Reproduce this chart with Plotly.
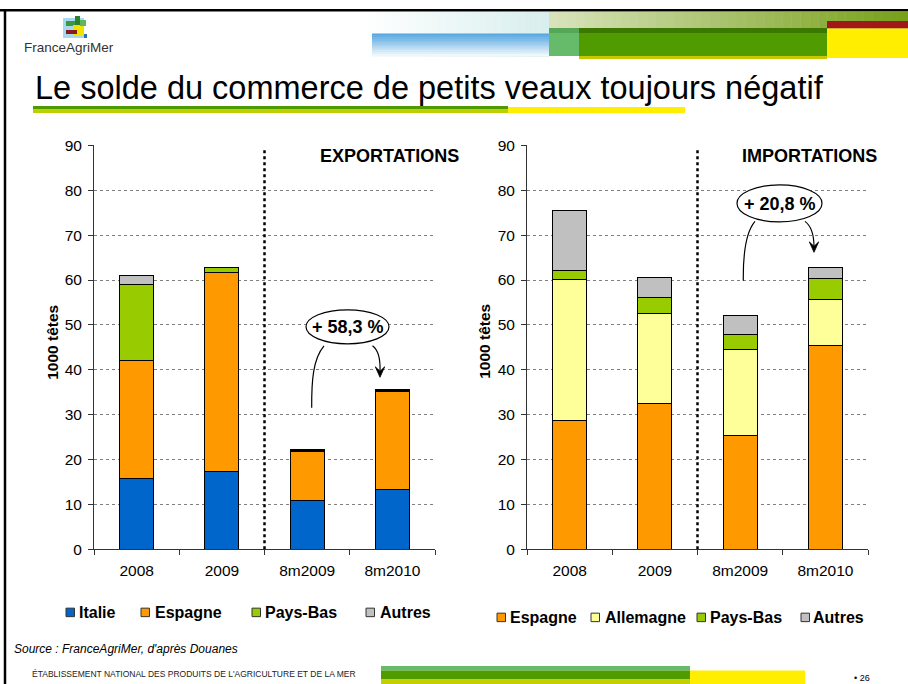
import plotly.graph_objects as go

W, H = 908, 692
# the photographed page shows the figure 8 px lower and 2.4 % flatter than drawn:
# place every element so that it lands on the reference position
OFF_Y, SY = 8.0, 0.976


def X(px):
    return px / W


def Y(py):
    return 1 - ((py - OFF_Y) / SY) / H


# ---------------- data ----------------
categories = ["2008", "2009", "8m2009", "8m2010"]

exp_italie = [15.8, 17.4, 10.8, 13.2]
exp_espagne = [26.2, 44.2, 11.0, 22.0]
exp_paysbas = [17.1, 1.3, 0.3, 0.2]
exp_autres = [1.8, 0.0, 0.2, 0.15]

imp_espagne = [28.6, 32.4, 25.4, 45.3]
imp_allemagne = [31.5, 20.2, 19.1, 10.4]
imp_paysbas = [2.1, 3.4, 3.3, 4.6]
imp_autres = [13.3, 4.5, 4.2, 2.5]

y_ticks = [0, 10, 20, 30, 40, 50, 60, 70, 80, 90]

exp_names = ["Italie", "Espagne", "Pays-Bas", "Autres"]
imp_names = ["Espagne", "Allemagne", "Pays-Bas", "Autres"]

BLUE, ORANGE, GREEN, GREY, YELLOW = "#0066cc", "#ff9900", "#99cc00", "#c0c0c0", "#ffff99"
exp_colors = [BLUE, ORANGE, GREEN, GREY]
imp_colors = [ORANGE, YELLOW, GREEN, GREY]

FONT = "Liberation Sans, Arial, sans-serif"
AXC = "#333333"

fig = go.Figure()

for name, vals, col in zip(exp_names, [exp_italie, exp_espagne, exp_paysbas, exp_autres], exp_colors):
    fig.add_trace(go.Bar(x=categories, y=vals, name=name, width=0.4,
                         marker=dict(color=col, line=dict(color="black", width=1)),
                         xaxis="x", yaxis="y", showlegend=False))
for name, vals, col in zip(imp_names, [imp_espagne, imp_allemagne, imp_paysbas, imp_autres], imp_colors):
    fig.add_trace(go.Bar(x=categories, y=vals, name=name, width=0.4,
                         marker=dict(color=col, line=dict(color="black", width=1)),
                         xaxis="x2", yaxis="y2", showlegend=False))

xcommon = dict(type="category", range=[-0.5, 3.5], tickson="boundaries", ticks="outside",
               ticklen=5, tickcolor=AXC, showline=True, linecolor=AXC, linewidth=1,
               showgrid=False, zeroline=False, fixedrange=True,
               tickfont=dict(family=FONT, size=15.5, color="black"), ticklabelstandoff=7)
ycommon = dict(range=[0, 90], tickvals=y_ticks, ticks="outside", ticklen=5, tickcolor=AXC,
               showline=True, linecolor=AXC, linewidth=1, showgrid=True,
               gridcolor="#808080", gridwidth=1, griddash="3px,3px", zeroline=False,
               fixedrange=True, tickfont=dict(family=FONT, size=15.5, color="black"),
               ticklabelstandoff=3)

ydom = [Y(548.5), Y(144.5)]
fig.update_layout(
    xaxis=dict(domain=[X(94), X(435)], anchor="y", **xcommon),
    yaxis=dict(domain=ydom, anchor="x", **ycommon),
    xaxis2=dict(domain=[X(527), X(868)], anchor="y2", **xcommon),
    yaxis2=dict(domain=ydom, anchor="x2", **ycommon),
    barmode="stack",
    width=W, height=H,
    margin=dict(l=0, r=0, t=0, b=0),
    paper_bgcolor="white", plot_bgcolor="white",
    font=dict(family=FONT, color="black"),
)

shapes = []
annotations = []


def rect(x0, y0, x1, y1, color, line=None):
    shapes.append(dict(type="rect", xref="paper", yref="paper",
                       x0=X(x0), x1=X(x1), y0=Y(y1), y1=Y(y0),
                       fillcolor=color, line=dict(width=0) if line is None else line,
                       layer="above"))


def hexrgb(c):
    c = c.lstrip("#")
    return [int(c[i:i + 2], 16) for i in (0, 2, 4)]


def grad(x0, y0, x1, y1, c0, c1, n, horizontal=True):
    a, b = hexrgb(c0), hexrgb(c1)
    for i in range(n):
        t = i / max(n - 1, 1)
        col = "rgb(%d,%d,%d)" % tuple(round(a[k] + (b[k] - a[k]) * t) for k in range(3))
        if horizontal:
            xa = x0 + (x1 - x0) * i / n
            xb = x0 + (x1 - x0) * (i + 1) / n + 0.5
            rect(xa, y0, xb, y1, col)
        else:
            ya = y0 + (y1 - y0) * i / n
            yb = y0 + (y1 - y0) * (i + 1) / n + 0.5
            rect(x0, ya, x1, yb, col)


def px_path(cmds):
    out = []
    for c in cmds:
        if isinstance(c, str):
            out.append(c)
        else:
            out.append("%f,%f" % (X(c[0]), Y(c[1])))
    return " ".join(out)


def add_path(cmds, line_w=1.2, fill=None):
    shapes.append(dict(type="path", xref="paper", yref="paper", path=px_path(cmds),
                       line=dict(color="black", width=line_w),
                       fillcolor=fill if fill else "rgba(0,0,0,0)", layer="above"))


def text(x, y, s, size, bold=False, italic=False, xanchor="left", yanchor="middle",
         color="black", angle=0, family=FONT):
    if bold:
        s = "<b>" + s + "</b>"
    if italic:
        s = "<i>" + s + "</i>"
    annotations.append(dict(x=X(x), y=Y(y), xref="paper", yref="paper", text=s,
                            showarrow=False, xanchor=xanchor, yanchor=yanchor,
                            textangle=angle,
                            font=dict(size=size, color=color, family=family)))


# ---------------- slide decoration ----------------
# borders
shapes.append(dict(type="line", xref="paper", yref="paper", x0=0, x1=1, y0=Y(9.3), y1=Y(9.3),
                   line=dict(color="black", width=2.5), layer="above"))
shapes.append(dict(type="line", xref="paper", yref="paper", x0=X(5), x1=X(5), y0=Y(8), y1=0,
                   line=dict(color="black", width=2.5), layer="above"))

# header band
grad(360, 11, 549, 56, "#ffffff", "#d9eeee", 24, horizontal=True)
grad(372, 32.5, 549, 55, "#58a6df", "#eef7fc", 12, horizontal=False)
grad(549, 11, 908, 27.5, "#d8e3bb", "#78a01a", 40, horizontal=True)
rect(827, 20, 908, 27.5, "#a01818")
rect(549, 27, 579, 55, "#66bb6a")
rect(549, 27, 579, 32, "#55a655")
rect(579, 27, 827, 32.5, "#3a7800")
rect(579, 32, 827, 55, "#509c00")
rect(579, 55, 827, 58, "#c8c800")
rect(827, 27.5, 908, 57, "#ffee00")

# logo
rect(63, 17, 84, 37, "#a8d8ee")
rect(66, 20, 76, 25, "#3c9a3c")
rect(75, 15, 80, 30, "#2f7f2f")
rect(73, 24, 84, 34, "#f3e200")
rect(66, 29, 77, 33, "#8b1a1a")
rect(80, 19, 86, 25, "#5cb85c")
rect(84, 33, 87, 37, "#2a6fb0")
text(22, 47, "FranceAgriMer", 13.5, color="#333333")

# title + underline
text(33, 87, "Le solde du commerce de petits veaux toujours négatif", 32.5)
rect(33, 105, 508, 108.5, "#4f9a00")
rect(33, 108.5, 508, 112, "#bccf00")
rect(508, 106, 685, 112, "#ffee00")

# footer
rect(381, 665.5, 690, 670, "#66bb6a")
rect(381, 670, 690, 679, "#509c00")
rect(381, 679, 690, 685, "#c4cf00")
rect(690, 670, 805, 685, "#ffee00")
text(30, 673, "ÉTABLISSEMENT NATIONAL DES PRODUITS DE L'AGRICULTURE ET DE LA MER", 8.5,
     color="#222222")
text(872, 677, "• 26", 9, xanchor="right")

text(12, 648, "Source : FranceAgriMer, d'après Douanes", 12, italic=True)

# ---------------- chart decorations ----------------
# dotted separators
for xa, ya in (("x", "y"), ("x2", "y2")):
    shapes.append(dict(type="line", xref=xa, yref=ya, x0=1.5, x1=1.5, y0=0, y1=89.3,
                       line=dict(color="black", width=2.5, dash="dot"), layer="above"))

# panel titles
text(389, 155, "EXPORTATIONS", 18, bold=True, xanchor="center")
text(809, 155, "IMPORTATIONS", 18, bold=True, xanchor="center")

# axis titles
text(53, 342, "1000 têtes", 15.5, bold=True, xanchor="center", angle=-90)
text(485, 341, "1000 têtes", 15.5, bold=True, xanchor="center", angle=-90)

# ellipses with evolution %
for (x0, y0, x1, y1, s) in ((306, 309, 389, 343, "+ 58,3 %"), (737, 184, 822, 221, "+ 20,8 %")):
    shapes.append(dict(type="circle", xref="paper", yref="paper", x0=X(x0), x1=X(x1),
                       y0=Y(y1), y1=Y(y0), fillcolor="white",
                       line=dict(color="black", width=1.2), layer="above"))
    text((x0 + x1) / 2, (y0 + y1) / 2 + 0.5, s, 18, bold=True, xanchor="center")

# curved arrows - left
add_path(["M", (311.7, 407), "C", (311.5, 380), (313, 358), (324, 345)])
add_path(["M", (372.5, 345), "C", (378, 349), (380.5, 358), (380, 371)])
add_path(["M", (375.3, 366), "L", (380, 376.5), "L", (384.7, 366), "L", (380, 370.5), "Z"],
         line_w=0.8, fill="black")
# curved arrows - right
add_path(["M", (743.3, 280), "C", (743, 255), (745, 232), (755, 220.5)])
add_path(["M", (805, 220.5), "C", (811, 225), (814, 233), (814, 246)])
add_path(["M", (809.3, 241), "L", (814, 251.5), "L", (818.7, 241), "L", (814, 245.5), "Z"],
         line_w=0.8, fill="black")


# ---------------- legends (manual) ----------------
def legend_row(names, colors, sq_x, txt_x, yc):
    for n, c, sx, tx in zip(names, colors, sq_x, txt_x):
        rect(sx, yc - 4.5, sx + 8.5, yc + 4, c, line=dict(color="#333333", width=1))
        text(tx, yc, n, 16, bold=True)


legend_row(exp_names, exp_colors, [66, 141, 252, 366], [77, 153, 263, 378], 612)
legend_row(imp_names, imp_colors, [497, 591, 697, 801], [508, 603, 708, 811], 617)

fig.update_layout(shapes=shapes, annotations=annotations)

fig.write_html("out.html", config={"displayModeBar": False},
               post_script="document.body.style.margin='0';document.body.style.overflow='hidden';")
